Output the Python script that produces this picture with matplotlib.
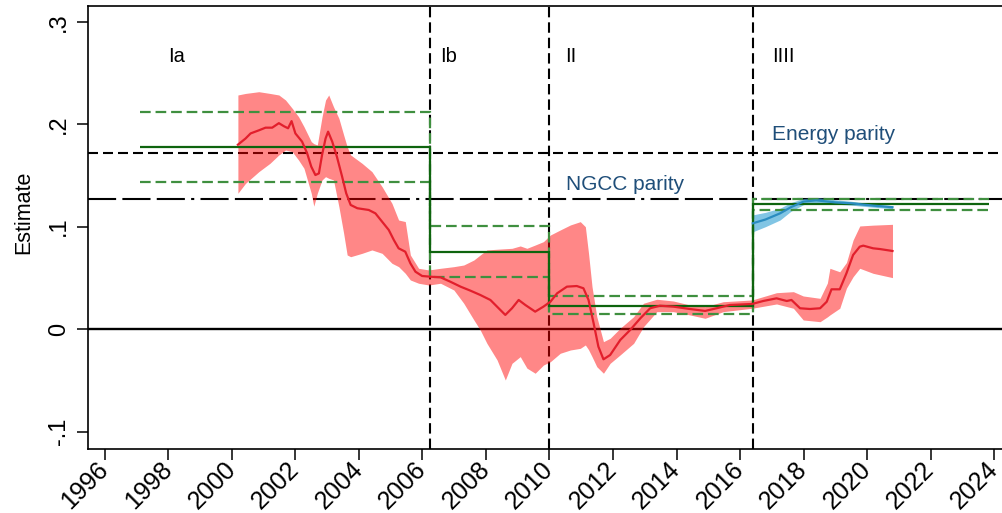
import matplotlib
matplotlib.use("Agg")
import matplotlib.pyplot as plt
import numpy as np

plt.rcParams['font.family'] = ['Liberation Sans', 'DejaVu Sans']

# ---------------- data ----------------
red_year = [2000.19, 2000.43, 2000.59, 2000.85, 2001.06, 2001.27, 2001.48, 2001.64, 2001.77, 2001.88,
            2002.0, 2002.21, 2002.37, 2002.5, 2002.63, 2002.74, 2002.84, 2002.95, 2003.03, 2003.16,
            2003.31, 2003.47, 2003.6, 2003.74, 2003.95, 2004.31, 2004.52, 2004.73, 2004.94, 2005.1,
            2005.25, 2005.46, 2005.62, 2005.78, 2005.99, 2006.25, 2006.57, 2006.88, 2007.2, 2007.51,
            2007.82, 2008.14, 2008.4, 2008.61, 2008.82, 2009.03, 2009.24, 2009.55, 2009.81, 2010.03,
            2010.24, 2010.55, 2010.86, 2011.07, 2011.23, 2011.39, 2011.54, 2011.7, 2011.91, 2012.23,
            2012.54, 2012.86, 2013.17, 2013.48, 2013.9, 2014.42, 2014.9, 2015.26, 2015.68, 2016.38,
            2016.73, 2017.15, 2017.47, 2017.62, 2017.89, 2018.2, 2018.52, 2018.73, 2018.88, 2019.14,
            2019.35, 2019.56, 2019.77, 2019.88, 2020.19, 2020.4, 2020.8]
red_est = [0.180, 0.186, 0.191, 0.194, 0.1966, 0.1966, 0.201, 0.198, 0.196, 0.203,
           0.191, 0.183, 0.1716, 0.1586, 0.1504, 0.152, 0.170, 0.186, 0.1927, 0.183,
           0.168, 0.149, 0.1326, 0.1212, 0.118, 0.1163, 0.113, 0.1049, 0.0968, 0.087,
           0.0789, 0.0756, 0.0643, 0.0561, 0.0519, 0.0512, 0.0506, 0.0463, 0.0415, 0.0376,
           0.0334, 0.0285, 0.0204, 0.0139, 0.0204, 0.0285, 0.0236, 0.0171, 0.022, 0.0268,
           0.035, 0.0415, 0.0421, 0.0399, 0.0285, 0.0058, -0.017, -0.0294, -0.0252, -0.0105,
           -0.0008, 0.0106, 0.0204, 0.0229, 0.022, 0.0197, 0.0178, 0.0204, 0.0236, 0.0246,
           0.0275, 0.0301, 0.0275, 0.0285, 0.0204, 0.0197, 0.0204, 0.0268, 0.0389, 0.0389,
           0.0545, 0.0724, 0.0805, 0.0815, 0.0789, 0.0782, 0.0763]

band_year = [2000.19, 2000.43, 2000.85, 2001.2, 2001.48, 2001.69, 2001.9, 2002.1, 2002.27, 2002.5,
             2002.58, 2002.69, 2002.84, 2002.95, 2003.05, 2003.2, 2003.37, 2003.52, 2003.63, 2003.74,
             2004.1, 2004.41, 2004.73, 2005.04, 2005.25, 2005.46, 2005.62, 2005.88, 2006.2, 2006.57,
             2006.99, 2007.3, 2007.62, 2007.82, 2008.03, 2008.35, 2008.61, 2008.82, 2009.08, 2009.29,
             2009.55, 2009.81, 2010.03, 2010.34, 2010.66, 2010.97, 2011.13, 2011.23, 2011.34, 2011.49,
             2011.7, 2011.91, 2012.23, 2012.65, 2012.96, 2013.38, 2013.9, 2014.42, 2014.9, 2015.47,
             2016.38, 2017.15, 2017.68, 2017.99, 2018.52, 2018.75, 2018.83, 2019.14, 2019.35, 2019.56,
             2019.77, 2020.19, 2020.8]
band_lo = [0.1326, 0.1423, 0.1537, 0.1618, 0.170, 0.1748, 0.1732, 0.165, 0.157, 0.1326,
           0.120, 0.1326, 0.1456, 0.1488, 0.1472, 0.1456, 0.1195, 0.0935, 0.0724, 0.0707,
           0.074, 0.0773, 0.074, 0.0643, 0.061, 0.0545, 0.048, 0.0448, 0.0431, 0.0448,
           0.0382, 0.0253, 0.009, -0.0008, -0.0138, -0.030, -0.0496, -0.0333, -0.0268, -0.038,
           -0.043, -0.035, -0.0317, -0.0235, -0.0203, -0.0187, -0.0154, -0.020, -0.0268, -0.0366,
           -0.043, -0.0333, -0.025, -0.0138, 0.0024, 0.0171, 0.0171, 0.0139, 0.0106, 0.0171,
           0.0204, 0.0246, 0.0204, 0.009, 0.0073, 0.012, 0.0139, 0.0204, 0.040, 0.0512,
           0.0594, 0.0545, 0.0503]
band_hi = [0.2285, 0.230, 0.2317, 0.230, 0.2285, 0.2236, 0.2155, 0.2073, 0.1976, 0.183,
           0.181, 0.1797, 0.2073, 0.2236, 0.2285, 0.217, 0.2057, 0.1895, 0.178, 0.170,
           0.1618, 0.1537, 0.139, 0.1228, 0.1065, 0.105, 0.0724, 0.0594, 0.0578, 0.0594,
           0.061, 0.0626, 0.0675, 0.0724, 0.0773, 0.078, 0.0785, 0.0789, 0.0812, 0.0789,
           0.0821, 0.0854, 0.0919, 0.0968, 0.1017, 0.1049, 0.100, 0.074, 0.0415, 0.0122,
           -0.0122, -0.0089, 0.001, 0.0122, 0.0253, 0.0292, 0.0275, 0.0236, 0.022, 0.0268,
           0.0285, 0.0356, 0.0366, 0.0324, 0.0301, 0.045, 0.0594, 0.056, 0.065, 0.087,
           0.1007, 0.1015, 0.1023]

blue_year = [2016.4, 2016.8, 2017.26, 2017.6, 2018.0, 2018.4, 2019.0, 2019.5, 2020.2, 2020.8]
blue_est = [0.1033, 0.107, 0.113, 0.119, 0.1245, 0.1257, 0.1237, 0.1228, 0.1205, 0.119]
blue_lo = [0.095, 0.100, 0.1065, 0.115, 0.1215, 0.1235, 0.122, 0.121, 0.119, 0.1175]
blue_hi = [0.1115, 0.114, 0.118, 0.1235, 0.1275, 0.1285, 0.1262, 0.1248, 0.1222, 0.1205]

period_edges = [1997.1, 2006.25, 2010.0, 2016.4, 2023.85]
period_est = [0.1778, 0.0756, 0.0229, 0.1218]
period_hi = [0.2116, 0.1007, 0.0327, 0.1273]
period_lo = [0.1436, 0.0506, 0.0145, 0.1163]
period_labels = ["Ia", "Ib", "II", "IIII"]
period_label_x = [1998.0, 2006.55, 2010.5, 2017.0]

breaks = [2006.25, 2010.0, 2016.4]
energy_parity = 0.1716
ngcc_parity = 0.1267

yticks = [-0.1, 0, 0.1, 0.2, 0.3]
ytick_labels = ["-.1", "0", ".1", ".2", ".3"]
xticks = list(range(1996, 2025, 2))

# ---------------- figure ----------------
W, H = 1002, 513
fig = plt.figure(figsize=(W / 100, H / 100), dpi=100)
ax = fig.add_axes([88.3 / W, (H - 449) / H, (1010 - 88.3) / W, (449 - 5.7) / H])
ax.set_xlim(1995.48, 2024.5)
ax.set_ylim(-0.1169, 0.3156)

# reference lines
ax.axhline(0, color='black', lw=1.7, zorder=1)
ax.axhline(energy_parity, color='black', lw=1.5, dashes=(4.8, 2.4), zorder=1)
ax.axhline(ngcc_parity, color='black', lw=1.5,
           dashes=(13.5, 3, 13.5, 3, 13.5, 3, 1.5, 3), zorder=1)
for b in breaks:
    ax.axvline(b, color='black', lw=1.5, dashes=(5, 2.4), zorder=1)

# confidence bands
ax.fill_between(band_year, band_lo, band_hi, color='#ff0000', alpha=0.47, lw=0, zorder=2)
ax.fill_between(blue_year, blue_lo, blue_hi, color='#3ea6d6', alpha=0.65, lw=0, zorder=2)

# period averages (step lines)
ax.stairs(period_hi, period_edges, baseline=None, color='#3f8f3f', lw=1.6,
          linestyle=(0, (4.8, 2.2)), zorder=3)
ax.stairs(period_lo, period_edges, baseline=None, color='#3f8f3f', lw=1.6,
          linestyle=(0, (4.8, 2.2)), zorder=3)
ax.stairs(period_est, period_edges, baseline=None, color='#0e640e', lw=1.6, zorder=3)

# estimates
ax.plot(red_year, red_est, color='#e21f2c', lw=1.6, zorder=4)
ax.plot(blue_year, blue_est, color='#2a8cc0', lw=1.6, zorder=4)

# annotations
for lab, xx in zip(period_labels, period_label_x):
    ax.text(xx, 0.2665, lab, fontsize=14.5, color='black', va='center', ha='left')
ax.text(2017.0, 0.1895, "Energy parity", fontsize=15, color='#1f4e79', va='center', ha='left')
ax.text(2010.53, 0.1407, "NGCC parity", fontsize=15, color='#1f4e79', va='center', ha='left')

# axes styling
ax.set_yticks(yticks)
ax.set_yticklabels(ytick_labels, rotation=90, va='center', fontsize=17)
ax.set_xticks(xticks)
ax.set_xticklabels([str(t) for t in xticks], rotation=45, ha='right', va='center',
                   rotation_mode='anchor', fontsize=18)
ax.tick_params(axis='both', direction='out', length=8, width=1.1, color='black')
ax.tick_params(axis='y', pad=5)
ax.tick_params(axis='x', pad=4)
for s in ax.spines.values():
    s.set_linewidth(1.2)
ax.set_ylabel("Estimate", fontsize=15.5)
ax.yaxis.set_label_coords((34 - 88.3) / 921.7, (449 - 212) / 443.3)

fig.savefig("out.png", dpi=100)
